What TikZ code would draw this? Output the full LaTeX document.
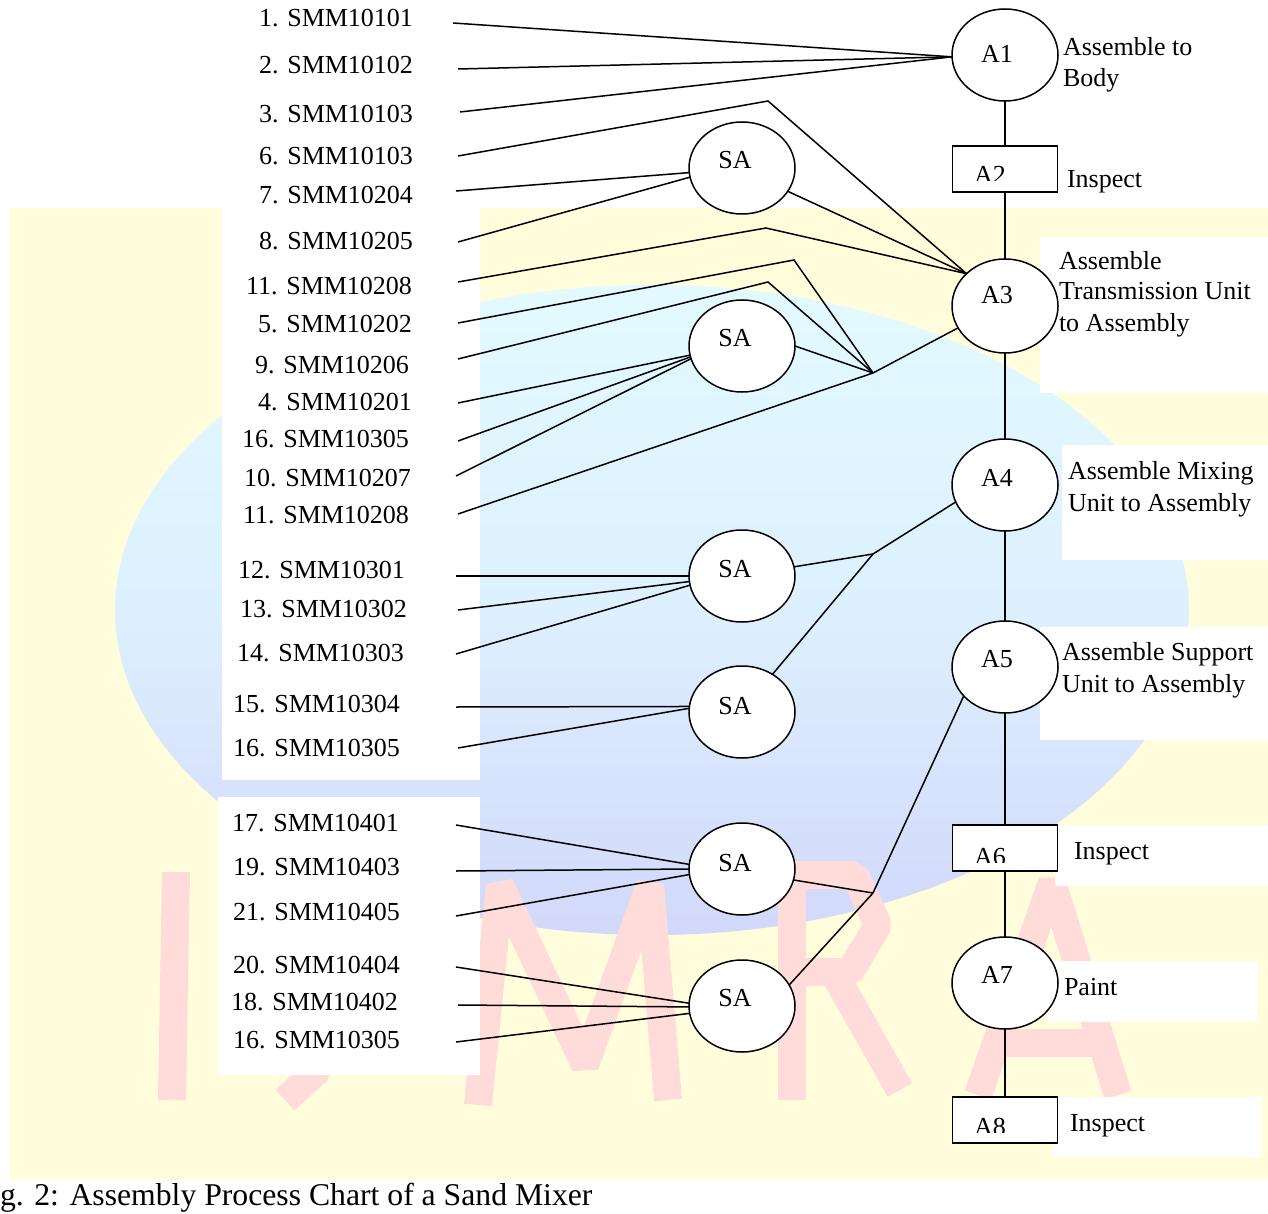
\documentclass[tikz,border=0pt]{standalone}
\usepackage{fontspec}
\setmainfont{Liberation Serif}
\usetikzlibrary{shapes.geometric}
\definecolor{wmyellow}{HTML}{FFFDDC}
\definecolor{wmcyan}{HTML}{E2FAFF}
\definecolor{wmblue}{HTML}{D2D8FA}
\definecolor{wmpink}{HTML}{FFDCDA}
\begin{document}
\begin{tikzpicture}[x=1pt,y=-1pt,
  every node/.style={inner sep=0pt,outer sep=0pt},
  txt/.style={font=\fontsize{26}{31}\selectfont},
  lab/.style={txt,anchor=base east},
  rlab/.style={txt,anchor=base west},
  ctext/.style={txt,anchor=base},
  opnode/.style={draw,line width=1.5pt,ellipse,minimum width=106pt,minimum height=92pt,fill=white},
  inspbox/.style={draw,line width=1.5pt,rectangle,minimum width=105pt,minimum height=46pt,fill=white},
  conn/.style={line width=1.5pt},
  wm/.style={draw=none,fill=white},
  letter/.style={draw=wmpink,line width=28pt,line join=bevel}]
\useasboundingbox (0,0) rectangle (1268,1214);
% ---------- background watermark ----------
\fill[white] (0,0) rectangle (1268,1214);
\fill[wmyellow] (10,208) rectangle (1268,1180);
\shade[top color=wmcyan,bottom color=wmblue,middle color=wmcyan!70!wmblue] (652,610) ellipse [x radius=537,y radius=325];
\draw[letter] (176,872) -- (172,1100);
\draw[letter] (325,880) -- (318,1070) -- (285,1100);
\draw[letter] (478,1105) -- (500,885) -- (585,1065) -- (650,885) -- (668,1100);
\draw[letter] (792,1100) -- (792,875) -- (855,875) -- (878,925) -- (850,972) -- (795,972);
\draw[letter] (835,975) -- (900,1090);
\draw[letter] (978,1095) -- (1052,882) -- (1118,1095);
\draw[letter] (1005,1043) -- (1105,1043);
\fill[wm] (222,208) rectangle (480,780);
\fill[wm] (218,797) rectangle (480,1075);
\fill[wm] (1040,237) rectangle (1268,393);
\fill[wm] (1062,445) rectangle (1268,560);
\fill[wm] (1040,627) rectangle (1268,740);
\fill[wm] (1055,825) rectangle (1268,886);
\fill[wm] (1047,961) rectangle (1258,1022);
\fill[wm] (1052,1097) rectangle (1262,1157);
% ---------- main column ----------
\node[opnode] (A1) at (1005,55) {};
\node[inspbox] (A2) at (1005,169) {};
\node[opnode,minimum height=94pt] (A3) at (1005,306) {};
\node[opnode] (A4) at (1005,485) {};
\node[opnode] (A5) at (1005,667) {};
\node[inspbox] (A6) at (1005,848) {};
\node[opnode] (A7) at (1005,983) {};
\node[inspbox] (A8) at (1005,1120) {};
\node[ctext] (A1t) at (997,63) {A1};
\node[ctext] (A3t) at (997,304) {A3};
\node[ctext] (A4t) at (997,486) {A4};
\node[ctext] (A5t) at (997,667) {A5};
\node[ctext] (A7t) at (997,983) {A7};
\begin{scope}
\clip (960,150) rectangle (1050,181);
\node[txt,anchor=base west] (A2t) at (974,184) {A2};
\end{scope}
\begin{scope}
\clip (960,830) rectangle (1050,862);
\node[txt,anchor=base west] (A6t) at (974,865) {A6};
\end{scope}
\begin{scope}
\clip (960,1100) rectangle (1050,1132);
\node[txt,anchor=base west] (A8t) at (974,1135) {A8};
\end{scope}
\draw[conn] (A1.south) -- (A2.north);
\draw[conn] (A2.south) -- (A3.north);
\draw[conn] (A3.south) -- (A4.north);
\draw[conn] (A4.south) -- (A5.north);
\draw[conn] (A5.south) -- (A6.north);
\draw[conn] (A6.south) -- (A7.north);
\draw[conn] (A7.south) -- (A8.north);
% right labels
\node[rlab] (r1a) at (1063,56) {Assemble to};
\node[rlab] (r1b) at (1063,87) {Body};
\node[rlab] (r2) at (1067,188) {Inspect};
\node[rlab] (r3a) at (1059,270) {Assemble};
\node[rlab] (r3b) at (1059,300) {Transmission Unit};
\node[rlab] (r3c) at (1059,331) {to Assembly};
\node[rlab] (r4a) at (1068,479) {Assemble Mixing};
\node[rlab] (r4b) at (1068,511) {Unit to Assembly};
\node[rlab] (r5a) at (1062,660) {Assemble Support};
\node[rlab] (r5b) at (1062,692) {Unit to Assembly};
\node[rlab] (r6) at (1074,859) {Inspect};
\node[rlab] (r7) at (1064,995) {Paint};
\node[rlab] (r8) at (1070,1131) {Inspect};
% ---------- sub-assemblies ----------
\node[opnode] (SA1) at (742,168) {};
\node[opnode] (SA2) at (742,346) {};
\node[opnode] (SA3) at (742,576) {};
\node[opnode] (SA4) at (742,712) {};
\node[opnode] (SA5) at (742,869) {};
\node[opnode] (SA6) at (742,1006) {};
\node[ctext] (SA1t) at (735,169) {SA};
\node[ctext] (SA2t) at (735,346) {SA};
\node[ctext] (SA3t) at (735,577) {SA};
\node[ctext] (SA4t) at (735,714) {SA};
\node[ctext] (SA5t) at (735,871) {SA};
\node[ctext] (SA6t) at (735,1006) {SA};
% ---------- part labels ----------
\node[lab] (p1) at (413,27) {1. SMM10101};
\node[lab] (p2) at (413,74) {2. SMM10102};
\node[lab] (p3) at (413,123) {3. SMM10103};
\node[lab] (p6) at (413,165) {6. SMM10103};
\node[lab] (p7) at (413,204) {7. SMM10204};
\node[lab] (p8) at (413,250) {8. SMM10205};
\node[lab] (p11a) at (412,295) {11. SMM10208};
\node[lab] (p5) at (412,333) {5. SMM10202};
\node[lab] (p9) at (409,373) {9. SMM10206};
\node[lab] (p4) at (412,410) {4. SMM10201};
\node[lab] (p16a) at (409,447) {16. SMM10305};
\node[lab] (p10) at (411,486) {10. SMM10207};
\node[lab] (p11b) at (409,523) {11. SMM10208};
\node[lab] (p12) at (405,578) {12. SMM10301};
\node[lab] (p13) at (407,617) {13. SMM10302};
\node[lab] (p14) at (404,661) {14. SMM10303};
\node[lab] (p15) at (400,712) {15. SMM10304};
\node[lab] (p16b) at (400,756) {16. SMM10305};
\node[lab] (p17) at (399,831) {17. SMM10401};
\node[lab] (p19) at (400,875) {19. SMM10403};
\node[lab] (p21) at (400,920) {21. SMM10405};
\node[lab] (p20) at (400,973) {20. SMM10404};
\node[lab] (p18) at (398,1010) {18. SMM10402};
\node[lab] (p16c) at (400,1048) {16. SMM10305};
% ---------- connector end points ----------
\coordinate (s1) at (453,23);
\coordinate (s2) at (458,69);
\coordinate (s3) at (460,112);
\coordinate (s6) at (458,156);
\coordinate (s7) at (456,191);
\coordinate (s8) at (458,242);
\coordinate (s11a) at (458,282);
\coordinate (s5) at (458,323);
\coordinate (s9) at (458,359);
\coordinate (s4) at (458,403);
\coordinate (s16a) at (458,441);
\coordinate (s10) at (456,476);
\coordinate (s11b) at (458,514);
\coordinate (s12) at (456,576);
\coordinate (s13) at (458,610);
\coordinate (s14) at (456,654);
\coordinate (s15) at (456,707);
\coordinate (s16b) at (458,748);
\coordinate (s17) at (456,825);
\coordinate (s19) at (456,871);
\coordinate (s21) at (456,916);
\coordinate (s20) at (456,967);
\coordinate (s18) at (458,1005);
\coordinate (s16c) at (456,1042);
\coordinate (B6) at (768,101);
\coordinate (B11) at (766,228);
\coordinate (B5) at (794,260);
\coordinate (B9) at (768,282);
\coordinate (J0) at (873,373);
\coordinate (J1) at (873,554);
\coordinate (J2) at (873,893);
% ---------- connectors ----------
\draw[conn] (s1) -- (A1.182);
\draw[conn] (s2) -- (A1.182);
\draw[conn] (s3) -- (A1.182);
\draw[conn] (s6) -- (B6) -- (A3.140);
\draw[conn] (s7) -- (SA1.185);
\draw[conn] (s8) -- (SA1.190);
\draw[conn] (SA1.-27) -- (A3.140);
\draw[conn] (s11a) -- (B11) -- (A3.140);
\draw[conn] (s5) -- (B5) -- (J0);
\draw[conn] (s9) -- (B9) -- (J0);
\draw[conn] (s4) -- (SA2.190);
\draw[conn] (s16a) -- (SA2.192);
\draw[conn] (s10) -- (SA2.194);
\draw[conn] (s11b) -- (J0);
\draw[conn] (SA2.east) -- (J0);
\draw[conn] (J0) -- (A3.205);
\draw[conn] (s12) -- (SA3.west);
\draw[conn] (s13) -- (SA3.186);
\draw[conn] (s14) -- (SA3.190);
\draw[conn] (SA3.10) -- (J1);
\draw[conn] (SA4.51) -- (J1);
\draw[conn] (J1) -- (A4.199);
\draw[conn] (s15) -- (SA4.174);
\draw[conn] (s16b) -- (SA4.176);
\draw[conn] (s17) -- (SA5.175);
\draw[conn] (s19) -- (SA5.180);
\draw[conn] (s21) -- (SA5.186);
\draw[conn] (SA5.-12) -- (J2);
\draw[conn] (SA6.24) -- (J2);
\draw[conn] (J2) -- (A5.215);
\draw[conn] (s20) -- (SA6.177);
\draw[conn] (s18) -- (SA6.181);
\draw[conn] (s16c) -- (SA6.188);
% ---------- caption ----------
\node[font=\fontsize{31.7}{36}\selectfont,anchor=base west] (cap) at (0,1205) {g. 2: Assembly Process Chart of a Sand Mixer};
\end{tikzpicture}
\end{document}
